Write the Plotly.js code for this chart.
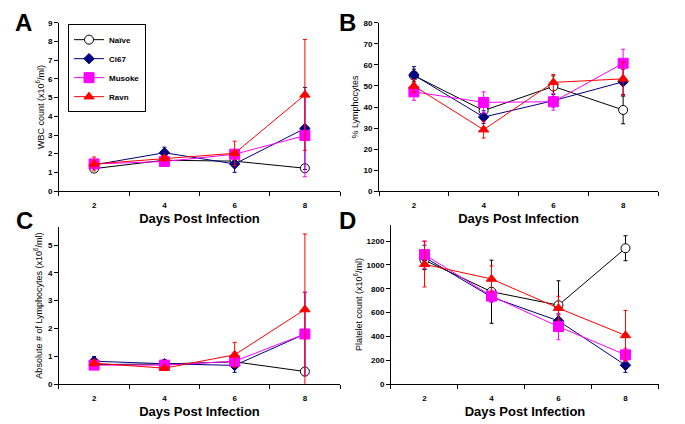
<!DOCTYPE html>
<html><head><meta charset="utf-8">
<script src="https://cdn.plot.ly/plotly-3.0.1.min.js"></script>
<style>html,body{margin:0;padding:0;background:#fff}#chart{width:685px;height:424px}</style>
</head><body><div id="chart"></div>
<script>
const days = [2, 4, 6, 8];
const groups = ["Naïve", "Ci67", "Musoke", "Ravn"];
const xTickLabels = ["2", "4", "6", "8"];

// Panel A: WBC count
const wbcNaive = [1.2, 1.65, 1.6, 1.22];
const wbcNaiveErr = [0.1, 0.15, 0.2, 0.15];
const wbcCi67 = [1.4, 2.05, 1.45, 3.35];
const wbcCi67Err = [0.15, 0.3, 0.45, 2.2];
const wbcMusoke = [1.45, 1.58, 1.97, 2.97];
const wbcMusokeErr = [0.2, 0.22, 0.25, 2.2];
const wbcRavn = [1.45, 1.75, 2.02, 5.15];
const wbcRavnErr = [0.37, 0.15, 0.65, 2.97];

// Panel B: % Lymphocytes
const pctNaive = [55, 38.3, 49.8, 38.6];
const pctNaiveErr = [3, 4, 5, 6.6];
const pctCi67 = [55.2, 35.2, 43, 52];
const pctCi67Err = [4, 3, 3, 6];
const pctMusoke = [47.2, 42.2, 42.5, 60.8];
const pctMusokeErr = [4, 5, 4, 6.7];
const pctRavn = [50, 29.2, 51.7, 53.4];
const pctRavnErr = [3, 4, 3.8, 8];

// Panel C: Absolute # of lymphocytes
const absNaive = [0.7, 0.72, 0.8, 0.45];
const absNaiveErr = [0.05, 0.05, 0.1, 0.05];
const absCi67 = [0.82, 0.73, 0.67, 1.8];
const absCi67Err = [0.17, 0.1, 0.25, 1.5];
const absMusoke = [0.68, 0.68, 0.82, 1.8];
const absMusokeErr = [0.08, 0.08, 0.1, 1.5];
const absRavn = [0.75, 0.57, 1.05, 2.68];
const absRavnErr = [0.1, 0.08, 0.45, 2.72];

// Panel D: Platelet count
const pltNaive = [1040, 775, 662, 1140];
const pltNaiveErr = [80, 265, 205, 105];
const pltCi67 = [1065, 730, 530, 158];
const pltCi67Err = [100, 40, 50, 60];
const pltMusoke = [1087, 738, 482, 245];
const pltMusokeErr = [115, 50, 110, 55];
const pltRavn = [1005, 882, 637, 408];
const pltRavnErr = [190, 110, 100, 210];

const styles = [
  {color: "#000000", marker: {symbol: "circle", size: 9, color: "#ffffff", line: {color: "#000000", width: 1}}},
  {color: "#000080", marker: {symbol: "diamond", size: 8, color: "#000080", line: {color: "#000080", width: 1}}},
  {color: "#ff00ff", marker: {symbol: "square", size: 10, color: "#ff00ff", line: {color: "#ff00ff", width: 1}}},
  {color: "#ff0000", marker: {symbol: "triangle-up", size: 9, color: "#ff0000", line: {color: "#ff0000", width: 1}}}
];

const panels = [
  {xa: "x", ya: "y", series: [[wbcNaive, wbcNaiveErr], [wbcCi67, wbcCi67Err], [wbcMusoke, wbcMusokeErr], [wbcRavn, wbcRavnErr]], legend: true},
  {xa: "x2", ya: "y2", series: [[pctNaive, pctNaiveErr], [pctCi67, pctCi67Err], [pctMusoke, pctMusokeErr], [pctRavn, pctRavnErr]]},
  {xa: "x3", ya: "y3", series: [[absNaive, absNaiveErr], [absCi67, absCi67Err], [absMusoke, absMusokeErr], [absRavn, absRavnErr]]},
  {xa: "x4", ya: "y4", series: [[pltNaive, pltNaiveErr], [pltCi67, pltCi67Err], [pltMusoke, pltMusokeErr], [pltRavn, pltRavnErr]]}
];

const traces = [];
panels.forEach(p => {
  p.series.forEach((s, i) => {
    traces.push({
      type: "scatter", mode: "lines+markers",
      x: days, y: s[0], xaxis: p.xa, yaxis: p.ya,
      name: groups[i], showlegend: !!p.legend, legendgroup: groups[i],
      line: {color: styles[i].color, width: 1},
      marker: styles[i].marker,
      error_y: {type: "data", array: s[1], visible: true, color: styles[i].color, thickness: 1, width: 2},
      cliponaxis: false
    });
  });
});

const F = "Arial, 'Liberation Sans', sans-serif";
function xax(domain, anchor) {
  return {
    domain: domain, anchor: anchor, range: [1, 9], showgrid: false, zeroline: false,
    showline: true, linecolor: "#000", linewidth: 1,
    tickmode: "array", tickvals: days, ticktext: xTickLabels, ticks: "", ticklen: 0,
    ticklabelstandoff: 6,
    tickfont: {family: F, size: 8, color: "#000", weight: "bold"},
    minor: {tickmode: "array", tickvals: [1, 3, 5, 7, 9], ticks: "outside", ticklen: 4, tickcolor: "#000", tickwidth: 1},
    title: {text: "Days Post Infection", font: {family: F, size: 13, color: "#000", weight: "bold"}, standoff: 5}
  };
}
function yax(domain, anchor, range, dtick, tick0, title, standoff) {
  return {
    domain: domain, anchor: anchor, range: range, showgrid: false, zeroline: false,
    showline: true, linecolor: "#000", linewidth: 1,
    tickmode: "linear", tick0: tick0, dtick: dtick, ticks: "outside", ticklen: 4, tickcolor: "#000",
    tickfont: {family: F, size: 8, color: "#000", weight: "bold"},
    title: {text: title, font: {family: F, size: 9, color: "#000"}, standoff: standoff}
  };
}

const layout = {
  width: 685, height: 424,
  margin: {l: 0, r: 0, t: 0, b: 0},
  paper_bgcolor: "#fff", plot_bgcolor: "rgba(0,0,0,0)",
  font: {family: F, color: "#000"},
  xaxis: xax([0.0861, 0.4964], "y"),
  yaxis: yax([0.5495, 0.9458], "x", [0, 9], 1, 1, "WBC count (x10<sup>6</sup>/ml)", 1),
  xaxis2: xax([0.5533, 0.9606], "y2"),
  yaxis2: yax([0.5495, 0.9458], "x2", [0, 80], 10, 10, "% Lymphocytes", 3),
  xaxis3: xax([0.0861, 0.4964], "y3"),
  yaxis3: yax([0.0943, 0.4646], "x3", [0, 5.65], 1, 1, "Absolute # of Lymphocytes (x10<sup>6</sup>/ml)", 3),
  xaxis4: xax([0.5708, 0.9620], "y4"),
  yaxis4: yax([0.0943, 0.4693], "x4", [0, 1335], 200, 200, "Platelet count (x10<sup>6</sup>/ml)", 2),
  showlegend: true,
  legend: {
    x: 0.0993, y: 0.943, xanchor: "left", yanchor: "top",
    bgcolor: "#fff", bordercolor: "#000", borderwidth: 1,
    font: {family: F, size: 8, color: "#000", weight: "bold"},
    tracegroupgap: 0, itemwidth: 30, itemsizing: "trace", traceorder: "normal"
  },
  annotations: [
    {text: "A", x: 23, y: 23},
    {text: "B", x: 347, y: 23},
    {text: "C", x: 25, y: 220},
    {text: "D", x: 347, y: 220}
  ].map(a => ({text: a.text, xref: "paper", yref: "paper", x: a.x / 685, y: 1 - a.y / 424,
    xanchor: "center", yanchor: "middle", showarrow: false,
    font: {family: F, size: 24, color: "#000", weight: "bold"}}))
};

Plotly.newPlot("chart", traces, layout, {displayModeBar: false, staticPlot: true});
</script>
</body></html>
